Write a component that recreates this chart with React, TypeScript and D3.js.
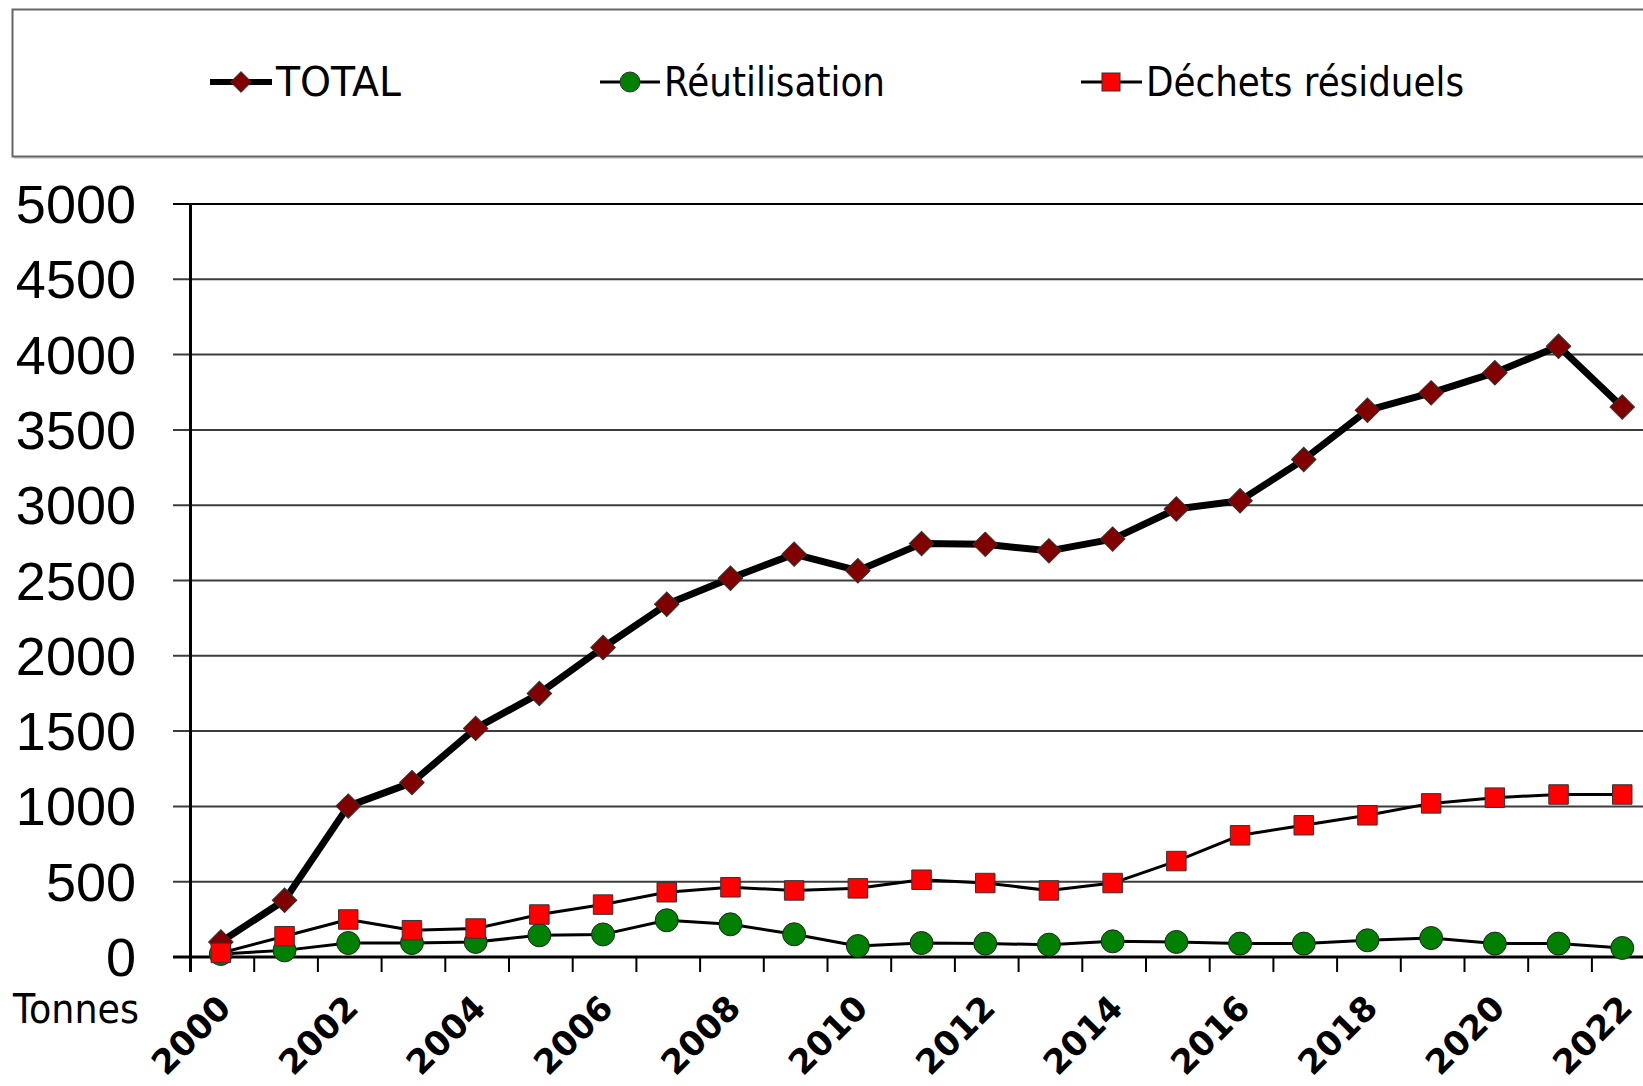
import * as d3 from "d3";

const years = ["2000", "2001", "2002", "2003", "2004", "2005", "2006", "2007", "2008", "2009", "2010", "2011",
    "2012", "2013", "2014", "2015", "2016", "2017", "2018", "2019", "2020", "2021", "2022"];
const yearLabels = ["2000", "2002", "2004", "2006", "2008", "2010", "2012", "2014", "2016", "2018", "2020", "2022"];
const yTicks = [0, 500, 1000, 1500, 2000, 2500, 3000, 3500, 4000, 4500, 5000];

const total = [100, 377, 1002, 1158, 1518, 1750, 2055, 2342, 2515, 2675, 2565, 2745, 2740, 2697, 2775, 2975,
    3030, 3303, 3630, 3746, 3880, 4055, 3652];
const reutilisation = [20, 44, 93, 93, 100, 144, 150, 244, 217, 151, 73, 93, 89, 82, 104, 100, 89, 89, 111, 126,
    89, 89, 60];
const residuels = [27, 138, 249, 178, 189, 282, 348, 430, 463, 442, 456, 513, 491, 442, 491, 637, 808, 875, 941,
    1020, 1058, 1079, 1079];

const W = 1643;
const H = 1086;
const plotLeft = 189;
const plotTop = 204;
const plotBottom = 957;
const bandW = 63.7;
const comic = "'Comic Sans MS', 'DejaVu Sans', sans-serif";

const App = () => {
    const x = d3
        .scaleBand()
        .domain(years)
        .range([plotLeft, plotLeft + bandW * years.length])
        .padding(0);
    const cx = (yr) => x(yr) + x.bandwidth() / 2;

    const y = d3.scaleLinear().domain([0, 5000]).range([plotBottom, plotTop]);

    const line = (vals) =>
        d3.line<number>()
            .x((_, i) => cx(years[i]))
            .y((d) => y(d))(vals);

    const diamond = d3.symbol(d3.symbolSquare, 300)();
    const square = d3.symbol(d3.symbolSquare, 380)();

    return (
        <svg
            width={W}
            height={H}
            viewBox={`0 0 ${W} ${H}`}
            style={{ position: "absolute", left: 0, top: 0, background: "#fff" }}
        >
            {/* legend box */}
            <rect x={14} y={11} width={1720} height={148} fill="#d8d8d8" />
            <rect x={12.5} y={9.5} width={1720} height={147} fill="#fff" stroke="#666" strokeWidth={2} />
            <g className="legend">
                <line x1={210} x2={272} y1={82} y2={82} stroke="#000" strokeWidth={6} />
                <path d={diamond} transform="translate(241,82) rotate(45) scale(0.85,0.85)" fill="#800000" stroke="#333" strokeWidth={1} />
                <text x={276} y={96} fontFamily={comic} fontSize={40} textLength={125} lengthAdjust="spacingAndGlyphs">TOTAL</text>

                <line x1={600} x2={660} y1={82} y2={82} stroke="#000" strokeWidth={3} />
                <circle cx={630} cy={82} r={10} fill="#008000" stroke="#333" strokeWidth={1} />
                <text x={664} y={96} fontFamily={comic} fontSize={40} textLength={221} lengthAdjust="spacingAndGlyphs">Réutilisation</text>

                <line x1={1081} x2={1142} y1={82} y2={82} stroke="#000" strokeWidth={3} />
                <rect x={1102} y={73} width={18} height={18} fill="#ff0000" stroke="#333" strokeWidth={1} />
                <text x={1146} y={96} fontFamily={comic} fontSize={40} textLength={318} lengthAdjust="spacingAndGlyphs">Déchets résiduels</text>
            </g>

            {/* gridlines */}
            <g className="grid">
                {yTicks.map((t) => (
                    <line
                        key={t}
                        x1={173}
                        x2={W}
                        y1={y(t)}
                        y2={y(t)}
                        stroke={t === 0 || t === 5000 ? "#000" : "#3c3c3c"}
                        strokeWidth={t === 0 ? 3 : 2}
                    />
                ))}
            </g>

            {/* y axis */}
            <line x1={plotLeft + 1.5} x2={plotLeft + 1.5} y1={plotTop} y2={plotBottom + 15} stroke="#000" strokeWidth={3} />
            <g className="y-labels">
                {yTicks.map((t) => (
                    <text
                        key={t}
                        x={136}
                        y={y(t) + 19}
                        textAnchor="end"
                        fontFamily="'Liberation Sans', Arial, sans-serif"
                        fontSize={54}
                    >
                        {t}
                    </text>
                ))}
            </g>

            {/* x ticks */}
            <g className="x-ticks">
                {years.map((yr) => (
                    <line key={yr} x1={x(yr) + 1.5} x2={x(yr) + 1.5} y1={plotBottom} y2={plotBottom + 15} stroke="#000" strokeWidth={2} />
                ))}
                <line x1={x.range()[1]} x2={x.range()[1]} y1={plotBottom} y2={plotBottom + 15} stroke="#000" strokeWidth={2} />
            </g>
            <g className="x-labels">
                {yearLabels.map((yr) => (
                    <text
                        key={yr}
                        transform={`translate(${cx(yr) + 12},1010) rotate(-45)`}
                        textAnchor="end"
                        fontFamily={comic}
                        fontWeight="bold"
                        fontSize={34}
                    >
                        {yr}
                    </text>
                ))}
            </g>
            <text x={13} y={1023} fontFamily={comic} fontSize={40} textLength={126} lengthAdjust="spacingAndGlyphs">Tonnes</text>

            {/* series */}
            <path d={line(total)} fill="none" stroke="#000" strokeWidth={7} strokeLinejoin="round" />
            {total.map((v, i) => (
                <path
                    key={i}
                    d={diamond}
                    transform={`translate(${cx(years[i])},${y(v)}) rotate(45)`}
                    fill="#800000"
                    stroke="#333"
                    strokeWidth={1}
                />
            ))}

            <path d={line(reutilisation)} fill="none" stroke="#000" strokeWidth={3} strokeLinejoin="round" />
            {reutilisation.map((v, i) => (
                <circle key={i} cx={cx(years[i])} cy={y(v)} r={11.5} fill="#008000" stroke="#222" strokeWidth={1} />
            ))}

            <path d={line(residuels)} fill="none" stroke="#000" strokeWidth={3} strokeLinejoin="round" />
            {residuels.map((v, i) => (
                <path
                    key={i}
                    d={square}
                    transform={`translate(${cx(years[i])},${y(v)})`}
                    fill="#ff0000"
                    stroke="#333"
                    strokeWidth={1}
                />
            ))}
        </svg>
    );
};

export default App;
